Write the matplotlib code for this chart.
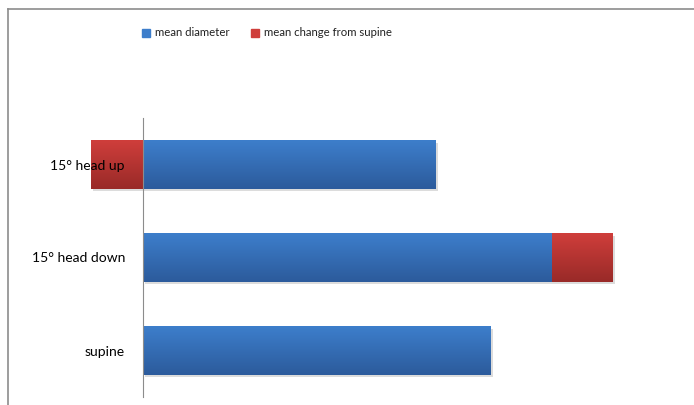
import numpy as np
import matplotlib.pyplot as plt
from matplotlib.colors import LinearSegmentedColormap
from matplotlib.lines import Line2D

# data (diameter units)
categories = ["supine", "15° head down", "15° head up"]
mean_diameter = [1.20, 1.41, 1.01]
mean_change = [0.0, 0.21, -0.18]
series_names = ["mean diameter", "mean change from supine"]

blue_top, blue_bot = "#3d7ecb", "#2c5b9c"
red_top, red_bot = "#cf3e3b", "#992a28"

plt.rcParams['font.family'] = ['Lato', 'DejaVu Sans']

fig = plt.figure(figsize=(6.94, 4.05), dpi=100)
ax = fig.add_axes([85 / 694, 8 / 405, 580 / 694, 279 / 405])

y = np.arange(len(categories))
h = 0.52
blue_bars = ax.barh(y, mean_diameter, height=h, color=blue_top, zorder=2)
# positive changes stack on the diameter, negative ones grow left of zero
left = [d if c > 0 else 0 for d, c in zip(mean_diameter, mean_change)]
red_bars = ax.barh(y, mean_change, left=left, height=h, color=red_top, zorder=2)

grad = np.linspace(0, 1, 64).reshape(-1, 1)


def shade(bars, top, bot):
    cmap = LinearSegmentedColormap.from_list("g", [top, bot])
    for b in bars:
        if b.get_width() == 0:
            continue
        x0, y0 = b.get_x(), b.get_y()
        x1, y1 = x0 + b.get_width(), y0 + b.get_height()
        xa, xb = min(x0, x1), max(x0, x1)
        # soft shadow
        ax.add_patch(plt.Rectangle((xa + 0.006, y0 - 0.03), xb - xa, y1 - y0,
                                   color="#bbbbbb", alpha=0.5, zorder=1, lw=0))
        ax.imshow(grad, cmap=cmap, aspect="auto", extent=(xa, xb, y0, y1),
                  origin="upper", zorder=3, interpolation="bilinear")


shade(blue_bars, blue_top, blue_bot)
shade(red_bars, red_top, red_bot)

ax.set_xlim(-0.2, 1.8)
ax.set_ylim(-0.5, len(categories) - 0.5)
ax.set_yticks(y)
ax.set_yticklabels(categories, fontsize=10, color="#222222")
ax.set_xticks([])
for s in ["top", "right", "bottom"]:
    ax.spines[s].set_visible(False)
ax.spines["left"].set_position(("data", 0))
ax.spines["left"].set_color("#8c8c8c")
ax.spines["left"].set_zorder(4)
ax.tick_params(axis="y", length=0, pad=13)
# labels sit on top of the bars, as in the original
ax.yaxis.set_zorder(6)

handles = [plt.Rectangle((0, 0), 1, 1, color=blue_top),
           plt.Rectangle((0, 0), 1, 1, color=red_top)]
fig.legend(handles, series_names, loc="center", bbox_to_anchor=(267 / 694, 1 - 33 / 405),
           ncol=2, frameon=False, fontsize=8.2, handlelength=0.7, handleheight=0.7,
           handletextpad=0.4, columnspacing=1.9, labelcolor="#222222")

# outer chart frame (top and left edges visible in the crop)
fig.add_artist(Line2D([8 / 694, 1], [1 - 9 / 405, 1 - 9 / 405], color="#8c8c8c", lw=1.2))
fig.add_artist(Line2D([8 / 694, 8 / 694], [0, 1 - 9 / 405], color="#8c8c8c", lw=1.2))

fig.savefig("out.png", dpi=100)
